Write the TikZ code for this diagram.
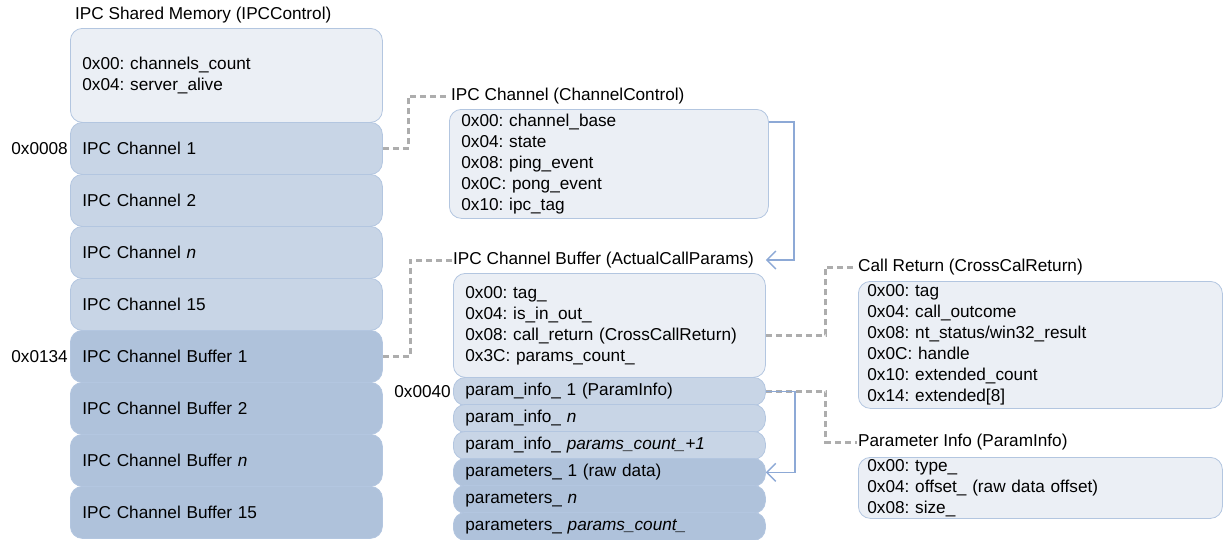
\documentclass[tikz,border=0pt]{standalone}
\usepackage{fontspec}
\setmainfont{Liberation Sans}
\usetikzlibrary{arrows.meta,positioning}
\frenchspacing

\definecolor{hdrfill}{HTML}{EBEFF5}
\definecolor{hdrline}{HTML}{B3C6E0}
\definecolor{chfill}{HTML}{C8D5E6}
\definecolor{buffill}{HTML}{AFC2DB}
\definecolor{linkblue}{HTML}{8DA9D6}
\definecolor{linkgray}{HTML}{ADADAD}

\tikzset{
  memcell/.style={draw=hdrline, line width=0.8pt, rounded corners=12pt, align=left,
    inner xsep=12pt, inner ysep=0pt, anchor=north west},
  hdrbox/.style={memcell, fill=hdrfill},
  chrow/.style={memcell, fill=chfill, text width=288pt, minimum height=52pt},
  bufrow/.style={chrow, fill=buffill},
  pinfo/.style={memcell, fill=chfill, text width=288pt, minimum height=28pt},
  pdata/.style={pinfo, fill=buffill},
  boxtitle/.style={anchor=west, inner sep=1pt},
  offs/.style={anchor=east, inner sep=2pt},
  dashlink/.style={linkgray, line width=3pt, dash pattern=on 6pt off 4pt},
  ptrlink/.style={linkblue, line width=1.4pt, -{Straight Barb[length=9pt,width=18pt]}}
}

\begin{document}
\begin{tikzpicture}[x=1pt, y=-1pt, every node/.style={font=\fontsize{17.2}{21}\selectfont}]
    \useasboundingbox (0,0) rectangle (1223,539);
    % IPC shared memory, left column
    \node[boxtitle] (shmtitle) at (74,15) {IPC Shared Memory (IPCControl)};
    \node[hdrbox, text width=288pt, minimum height=94pt] (shm) at (70,28)
        {0x00: channels\_count\\0x04: server\_alive};
    \node[chrow] (ch1) at (70,122) {IPC Channel 1};
    \node[chrow] (ch2) at (70,174) {IPC Channel 2};
    \node[chrow] (chn) at (70,226) {IPC Channel \textit{n}};
    \node[chrow] (ch15) at (70,278) {IPC Channel 15};
    \node[bufrow] (buf1) at (70,330) {IPC Channel Buffer 1};
    \node[bufrow] (buf2) at (70,382) {IPC Channel Buffer 2};
    \node[bufrow] (bufn) at (70,434) {IPC Channel Buffer \textit{n}};
    \node[bufrow] (buf15) at (70,486) {IPC Channel Buffer 15};
    \node[offs] (off1) at (ch1.west) {0x0008};
    \node[offs] (off2) at (buf1.west) {0x0134};

    % channel control
    \node[boxtitle] (ctrltitle) at (450,96) {IPC Channel (ChannelControl)};
    \node[hdrbox, text width=295pt, minimum height=109pt] (ctrl) at (449,109)
        {0x00: channel\_base\\0x04: state\\0x08: ping\_event\\0x0C: pong\_event\\0x10: ipc\_tag};

    % channel buffer
    \node[boxtitle] (buftitle) at (452,260) {IPC Channel Buffer (ActualCallParams)};
    \node[hdrbox, text width=288pt, minimum height=104pt] (bufhdr) at (453,273)
        {0x00: tag\_\\0x04: is\_in\_out\_\\0x08: call\_return (CrossCallReturn)\\0x3C: params\_count\_};
    \node[pinfo] (pi1) at (453,377) {param\_info\_ 1 (ParamInfo)};
    \node[pinfo] (pin) at (453,404) {param\_info\_ \textit{n}};
    \node[pinfo] (pilast) at (453,431) {param\_info\_ \textit{params\_count\_+1}};
    \node[pdata] (par1) at (453,458) {parameters\_ 1 (raw data)};
    \node[pdata] (parn) at (453,485) {parameters\_ \textit{n}};
    \node[pdata] (parlast) at (453,512) {parameters\_ \textit{params\_count\_}};
    \node[offs] (off3) at (pi1.west) {0x0040};

    % call return and param info
    \node[boxtitle] (crtitle) at (857,267) {Call Return (CrossCalReturn)};
    \node[hdrbox, inner xsep=9pt, text width=346pt, minimum height=127pt] (cr) at (858,281)
        {0x00: tag\\0x04: call\_outcome\\0x08: nt\_status/win32\_result\\0x0C: handle\\0x10: extended\_count\\0x14: extended[8]};
    \node[boxtitle] (pititle) at (857,442) {Parameter Info (ParamInfo)};
    \node[hdrbox, inner xsep=9pt, text width=346pt, minimum height=61pt] (pinfobox) at (858,457)
        {0x00: type\_\\0x04: offset\_ (raw data offset)\\0x08: size\_};

    % links
    \draw[dashlink] (ch1.east) -- ++(26,0) |- (ctrltitle.west);
    \draw[dashlink] (buf1.east) -- ++(28,0) |- (buftitle.west);
    \draw[dashlink] ([yshift=-10pt]bufhdr.east) -- ++(60,0) |- (crtitle.west);
    \draw[dashlink] (pi1.east) -- ++(60,0) |- (pititle.west);
    \draw[ptrlink] ([yshift=-13pt]ctrl.north east) -- ++(25,0) |- (bufhdr.east |- buftitle.east);
    \draw[ptrlink] (pi1.east) -- ++(29,0) |- (par1.east);
\end{tikzpicture}
\end{document}
